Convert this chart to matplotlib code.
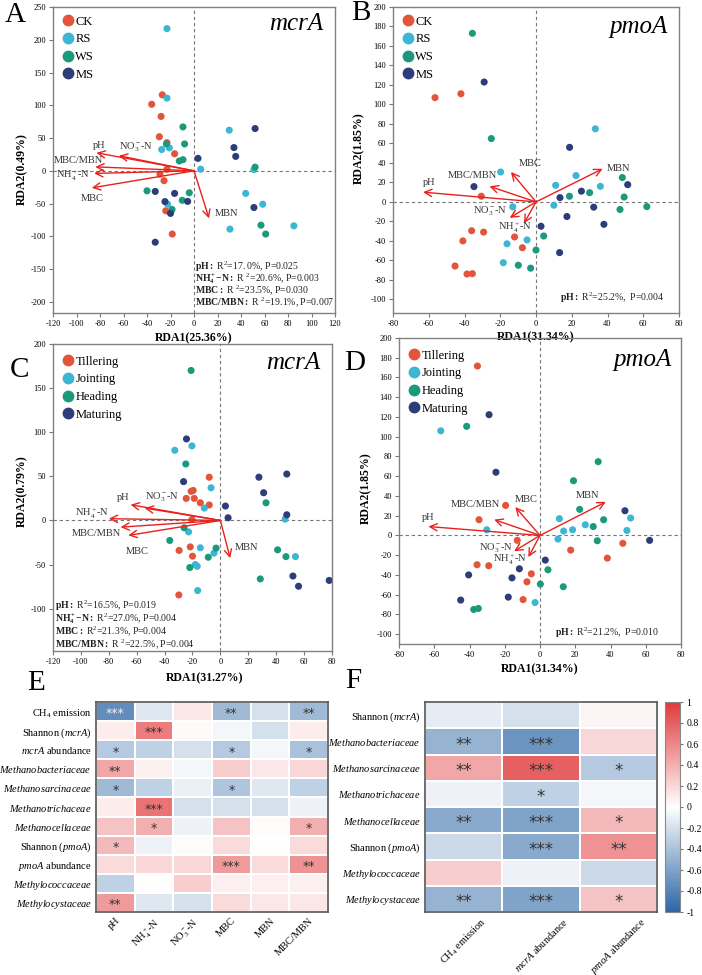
import numpy as np
import matplotlib
matplotlib.use("Agg")
import matplotlib.pyplot as plt
from matplotlib.colors import LinearSegmentedColormap
from matplotlib.lines import Line2D

plt.rcParams["font.family"] = ["Liberation Serif", "DejaVu Serif"]
plt.rcParams["mathtext.fontset"] = "custom"
plt.rcParams["mathtext.rm"] = "Liberation Serif"
plt.rcParams["mathtext.it"] = "Liberation Serif:italic"
plt.rcParams["mathtext.bf"] = "Liberation Serif:bold"
plt.rcParams["axes.unicode_minus"] = False

# ---------------- data ----------------
treatments = ["CK", "RS", "WS", "MS"]
stages = ["Tillering", "Jointing", "Heading", "Maturing"]
group_colors = ["#e2553a", "#3cb6d3", "#1b9a7b", "#2c3d79"]

env_names = ["pH", r"NH$_4^+$-N", r"NO$_3^-$-N", "MBC", "MBN", "MBC/MBN"]

# sample scores (RDA1, RDA2)
A_CK = [(-36, 101.5), (-27, 116), (-28, 83), (-29.5, 52), (-23, 43), (-16.5, 26), (-23, 2.5),
        (-29, -5), (-25.5, -15), (-24, -61), (-18.5, -96.5)]
A_RS = [(-23, 217), (-23, 111), (-27.5, 32.5), (-21, 35), (5.7, 2.5), (30, 62), (44, -34.5),
        (58.5, -51), (30.6, -89), (85, -84), (51, 2), (-22.4, -51)]
A_WS = [(-9.4, 67), (-8, 41), (-23.5, 41), (-12.5, 15), (-9.4, 17), (-40, -30.5), (-4, -33.5),
        (-10, -45), (-18.7, -59), (52, 5.6), (57, -83), (61, -96.5)]
A_MS = [(52, 64.5), (34, 35.5), (35.5, 22), (3.4, 19), (-33, -31.5), (-16.5, -34.5), (-24.7, -47),
        (-5.4, -46.7), (-20, -65), (51, -56), (-33, -109)]

B_CK = [(-56.5, 107), (-42, 111), (-30.6, 5.8), (-36, -29.6), (-29.3, -31), (-40.9, -40), (-12, -36),
        (-7.6, -47), (-45.3, -65.8), (-38.6, -74), (-35.6, -73.6)]
B_RS = [(-19.8, 30.7), (-13, -5), (10, -3.4), (11, 17), (22.4, 27), (33.2, 75), (36, 16),
        (-16.2, -43), (-5, -39), (-18.3, -62.4)]
B_WS = [(-35.6, 173), (-25, 65), (4.3, -35), (0, -49.4), (-9.9, -65), (-3, -68), (18.7, 5.8),
        (30, 9.5), (48.3, 25), (49.3, 5), (47, -7.8), (62, -4.8)]
B_MS = [(-29, 123), (-34.7, 15.7), (2.8, -25), (13.4, 4.4), (18.8, 56), (25.4, 11), (32.3, -5.4),
        (17.3, -15), (38, -23), (13.2, -52), (51.3, 17.7)]

C_TI = [(-8, 49), (-21, 33), (-19.5, 34), (-24.5, 25), (-18.7, 25), (-14.4, 20), (-8, 17.5),
        (-20.4, 1), (-21.6, -30), (-29.6, -34), (-20, -40.5), (-29.8, -84.5)]
C_JO = [(-20.4, 84.5), (-32.7, 79.5), (-6.7, 37), (-11.5, 14), (-22.8, -13), (-14.4, -31),
        (-4.6, -37), (-18, -50), (-16.6, -52), (-16.3, -79.5), (46.4, 1.5), (53.8, -41)]
C_HE = [(-21, 170), (-24.8, 64), (-26, -8.3), (-36.3, -22.7), (-3.1, -31.4), (-8.7, -41.7),
        (-21.9, -53.4), (32.7, 20), (41, -33.3), (47, -41), (28.6, -66.3)]
C_MA = [(-24.3, 92.4), (-26.4, 44), (3.6, 16.3), (5.5, 3), (27.6, 49), (47.6, 52.6), (31, 31.4),
        (47.6, 6.4), (52, -63), (56, -74.6), (78, -68)]

D_TI = [(-35.5, 171.6), (-19.5, 30.4), (-34.6, 15.9), (-12.9, -5), (-35.7, -29.7), (-29.1, -30.7),
        (-4.9, -38.9), (-7.4, -47), (-9.6, -65), (17.4, -14.9), (38.2, -23), (47, -8)]
D_JO = [(-56.3, 106), (-30.2, 5.7), (11, 17), (13.4, 4.4), (18.5, 5.7), (10.2, -3.7), (25.7, 10.8),
        (49.3, 5), (51.4, 17.6), (-2.8, -68)]
D_HE = [(-41.6, 110.5), (33, 74.7), (19, 55.4), (22.5, 26.4), (30.2, 9), (36.1, 15.9), (32.5, -5.4),
        (4.5, -34.8), (0.2, -49.3), (13.2, -52), (-37.6, -75), (-35, -74)]
D_MA = [(-28.9, 122.3), (-25, 64), (48.2, 25), (62.2, -5), (3, -25), (-11.7, -33.8), (-15.9, -43),
        (-40.5, -40), (-18, -62.5), (-45, -65.5)]

# environmental arrows, order = env_names
A_ARROWS = [(-83, 27.5), (-85, -4), (-64, 23), (-87, -26), (12.8, -72.6), (-84, 6)]
B_ARROWS = [(-63.2, 10), (-6.7, -22), (-14.7, -16.4), (-14, 30.7), (37.3, 34), (-26, 16)]
C_ARROWS = [(-64.4, 17.8), (-80, 2), (-54.3, 14), (-66, -17), (7, -42.8), (-71.6, -7.6)]
D_ARROWS = [(-63.3, 9), (-6.6, -22), (-14.7, -16), (-14, 28.7), (37.4, 34), (-26, 16)]

A_STATS = [r"$\mathbf{pH:}$ R$^2$=17. 0%, P=0.025",
           r"$\mathbf{NH_4^+{-}N:}$ R $^2$=20.6%, P=0.003",
           r"$\mathbf{MBC:}$ R $^2$=23.5%, P=0.030",
           r"$\mathbf{MBC/MBN:}$ R $^2$=19.1%, P=0.007"]
C_STATS = [r"$\mathbf{pH:}$ R$^2$=16.5%, P=0.019",
           r"$\mathbf{NH_4^+{-}N:}$ R$^2$=27.0%, P=0.004",
           r"$\mathbf{MBC:}$ R$^2$=21.3%, P=0.004",
           r"$\mathbf{MBC/MBN:}$ R $^2$=22.5%, P=0.004"]
B_STATS = [r"$\mathbf{pH:}$ R$^2$=25.2%,  P=0.004"]
D_STATS = [r"$\mathbf{pH:}$ R$^2$=21.2%,  P=0.010"]

# correlation heatmaps
E_rows = [r"CH$_4$ emission", r"Shannon ($\it{mcrA}$)", r"$\it{mcrA}$ abundance",
          r"$\it{Methanobacteriaceae}$", r"$\it{Methanosarcinaceae}$", r"$\it{Methanotrichaceae}$",
          r"$\it{Methanocellaceae}$", r"Shannon ($\it{pmoA}$)", r"$\it{pmoA}$ abundance",
          r"$\it{Methylococcaceae}$", r"$\it{Methylocystaceae}$"]
E_cols = env_names
E_vals = np.array([
    [-0.75, -0.15, 0.12, -0.45, -0.20, -0.45],
    [0.10, 0.65, 0.03, -0.05, -0.20, 0.10],
    [-0.35, -0.30, -0.20, -0.35, -0.05, -0.40],
    [0.45, 0.08, -0.05, 0.25, 0.12, 0.20],
    [-0.45, -0.30, -0.10, -0.38, -0.15, -0.30],
    [0.10, 0.70, -0.20, -0.20, -0.20, -0.08],
    [0.30, 0.40, -0.08, 0.30, 0.02, 0.40],
    [0.35, -0.08, 0.02, 0.18, 0.00, 0.18],
    [0.18, 0.20, 0.20, 0.50, 0.18, 0.55],
    [-0.30, 0.00, 0.25, 0.08, 0.08, 0.08],
    [0.50, -0.15, -0.20, 0.18, 0.12, 0.12],
])
E_sig = [
    ["***", "", "", "**", "", "**"],
    ["", "***", "", "", "", ""],
    ["*", "", "", "*", "", "*"],
    ["**", "", "", "", "", ""],
    ["*", "", "", "*", "", ""],
    ["", "***", "", "", "", ""],
    ["", "*", "", "", "", "*"],
    ["*", "", "", "", "", ""],
    ["", "", "", "***", "", "**"],
    ["", "", "", "", "", ""],
    ["**", "", "", "", "", ""],
]

F_rows = [r"Shannon ($\it{mcrA}$)", r"$\it{Methanobacteriaceae}$", r"$\it{Methanosarcinaceae}$",
          r"$\it{Methanotrichaceae}$", r"$\it{Methanocellaceae}$", r"Shannon ($\it{pmoA}$)",
          r"$\it{Methylococcaceae}$", r"$\it{Methylocystaceae}$"]
F_cols = [r"CH$_4$ emission", r"$\it{mcrA}$ abundance", r"$\it{pmoA}$ abundance"]
F_vals = np.array([
    [-0.12, -0.20, 0.05],
    [-0.50, -0.70, 0.20],
    [0.45, 0.80, -0.35],
    [-0.08, -0.30, -0.05],
    [-0.55, -0.60, 0.35],
    [-0.25, -0.55, 0.55],
    [0.25, -0.08, -0.25],
    [-0.50, -0.60, 0.30],
])
F_sig = [
    ["", "", ""],
    ["**", "***", ""],
    ["**", "***", "*"],
    ["", "*", ""],
    ["**", "***", "*"],
    ["", "***", "**"],
    ["", "", ""],
    ["**", "***", "*"],
]

cbar_ticks = [1, 0.8, 0.6, 0.4, 0.2, 0, -0.2, -0.4, -0.6, -0.8, -1]

# ---------------- drawing ----------------
W, H = 702, 975
fig = plt.figure(figsize=(W / 100, H / 100), dpi=100)


def px_axes(l, t, r, b):
    ax = fig.add_axes([l / W, 1 - b / H, (r - l) / W, (b - t) / H])
    ax.patch.set_visible(False)
    return ax


def rda_panel(ax, groups, names, arrows, label_pos, xlim, ylim, xticks, yticks,
              title, xlab, ylab, xlab_pos, ylab_pos, stats, stats_pos, legend_y):
    ax.axhline(0, color="#777777", lw=0.8, ls=(0, (3, 2.5)), zorder=1)
    ax.axvline(0, color="#777777", lw=0.8, ls=(0, (3, 2.5)), zorder=1)
    for pts, c in zip(groups, group_colors):
        pts = np.array(pts)
        ax.scatter(pts[:, 0], pts[:, 1], s=26, color=c, edgecolors="none", zorder=3)
    for (ex, ey), (lx, ly), nm in zip(arrows, label_pos, env_names):
        ax.annotate("", xy=(ex, ey), xytext=(0, 0),
                    arrowprops=dict(arrowstyle="->", color="#e8211d", lw=1.0,
                                    mutation_scale=13, shrinkA=0, shrinkB=0), zorder=4)
        ax.text(lx, ly, nm, fontsize=7.5, color="#333333", ha="center", va="center", zorder=5)
    ax.set_xlim(xlim)
    ax.set_ylim(ylim)
    ax.set_xticks(xticks)
    ax.set_yticks(yticks)
    ax.tick_params(labelsize=6, length=3, width=0.8, color="#777777", pad=2)
    for s in ax.spines.values():
        s.set_color("#808080")
        s.set_linewidth(1.0)
    ax.set_xlabel(xlab, fontsize=8.5, fontweight="bold")
    ax.set_ylabel(ylab, fontsize=8.5, fontweight="bold")
    ax.xaxis.set_label_coords(*xlab_pos)
    ax.yaxis.set_label_coords(*ylab_pos)
    ax.text(title[1], title[2], title[0], transform=ax.transAxes, fontsize=18,
            fontstyle="italic", ha="right", va="center")
    handles = [Line2D([], [], ls="none", marker="o", ms=7.5, color=c) for c in group_colors]
    ax.legend(handles, names, loc="upper left", bbox_to_anchor=(-0.005, legend_y), frameon=False,
              fontsize=9, handletextpad=0.0, labelspacing=0.45, borderpad=0.2,
              handlelength=1.2)
    sx, sy0, dy = stats_pos
    for i, line in enumerate(stats):
        ax.text(sx, sy0 - i * dy, line, transform=ax.transAxes, fontsize=7, color="#222222",
                ha="left", va="center", zorder=6)


axA = px_axes(53, 7, 335, 313)
rda_panel(axA, [A_CK, A_RS, A_WS, A_MS], treatments, A_ARROWS,
          [(-81, 38), (-103, -7.6), (-49, 36.5), (-87, -42), (28, -65), (-98, 16)],
          (-120, 120), (-217, 250), np.arange(-120, 121, 20), np.arange(-200, 251, 50),
          ("mcrA", 0.957, 0.946), "RDA1(25.36%)", "RDA2(0.49%)", (0.5, -0.062), (-0.089, 0.47),
          A_STATS, (0.505, 0.150, 0.038), 1.0)

axB = px_axes(393, 7, 679, 313)
rda_panel(axB, [B_CK, B_RS, B_WS, B_MS], treatments, B_ARROWS,
          [(-60, 20), (-11.6, -26.6), (-25.6, -10), (-3, 39), (46, 34), (-35.4, 27)],
          (-80, 80), (-114, 200), np.arange(-80, 81, 20), np.arange(-100, 201, 20),
          ("pmoA", 0.962, 0.935), "RDA1(31.34%)", "RDA2(1.85%)", (0.5, -0.059), (-0.098, 0.54),
          B_STATS, (0.584, 0.049, 0.04), 1.0)

axC = px_axes(53, 344, 332, 651)
rda_panel(axC, [C_TI, C_JO, C_HE, C_MA], stages, C_ARROWS,
          [(-69.7, 26.5), (-92, 7.6), (-41.6, 26.5), (-60, -35), (19, -31), (-89, -14.4)],
          (-120, 80), (-148, 200), np.arange(-120, 81, 20), np.arange(-100, 201, 50),
          ("mcrA", 0.957, 0.938), "RDA1(31.27%)", "RDA2(0.79%)", (0.545, -0.068), (-0.09, 0.52),
          C_STATS, (0.008, 0.148, 0.0413), 0.99)

axD = px_axes(399, 338, 681, 644)
rda_panel(axD, [D_TI, D_JO, D_HE, D_MA], stages, D_ARROWS,
          [(-63.5, 18.6), (-17, -24.7), (-24.8, -12.5), (-7.6, 36.5), (26.8, 40), (-36.5, 31)],
          (-80, 80), (-110, 200), np.arange(-80, 81, 20), np.arange(-100, 201, 20),
          ("pmoA", 0.968, 0.928), "RDA1(31.34%)", "RDA2(1.85%)", (0.5, -0.062), (-0.096, 0.51),
          D_STATS, (0.553, 0.036, 0.04), 0.99)

cmap = LinearSegmentedColormap.from_list("rb", ["#2c66a5", "#ffffff", "#e0393b"])


def heat(ax, vals, sig, rows, cols, star_fs, xlab_ha):
    m = ax.pcolormesh(vals, cmap=cmap, vmin=-1, vmax=1, edgecolors="white", linewidth=0.3)
    ax.set_xlim(0, vals.shape[1])
    ax.set_ylim(vals.shape[0], 0)
    ax.set_xticks(np.arange(vals.shape[1]) + 0.5)
    ax.set_yticks(np.arange(vals.shape[0]) + 0.5)
    ax.set_yticklabels(rows, fontsize=7.5)
    if xlab_ha == "right":
        ax.set_xticklabels(cols, fontsize=7.5, rotation=45, ha="right", rotation_mode="anchor")
    else:
        ax.set_xticklabels(cols, fontsize=7.5, rotation=45, ha="center")
    ax.tick_params(length=0, pad=3)
    for s in ax.spines.values():
        s.set_color("#555555")
        s.set_linewidth(1.2)
    for i in range(vals.shape[0]):
        for j in range(vals.shape[1]):
            if sig[i][j]:
                c = "#eeeeee" if vals[i, j] < -0.72 else "#333333"
                ax.text(j + 0.5, i + 0.62, sig[i][j], ha="center", va="center",
                        fontsize=star_fs, color=c, family="DejaVu Sans")
    return m


axE = px_axes(96, 702, 328, 912)
heat(axE, E_vals, E_sig, E_rows, E_cols, 9, "right")

axF = px_axes(425, 702, 657, 912)
mesh = heat(axF, F_vals, F_sig, F_rows, F_cols, 12, "center")

cax = fig.add_axes([665 / W, 1 - 912 / H, 15 / W, 210 / H])
cb = fig.colorbar(mesh, cax=cax, ticks=cbar_ticks)
cb.ax.set_yticklabels([f"{t:g}" for t in cbar_ticks])
cb.ax.tick_params(labelsize=7, length=2.5, color="#777777", pad=2)
cb.outline.set_edgecolor("#888888")

# panel letters
for letter, x, y in [("A", 5, 15), ("B", 351, 13), ("C", 10, 370), ("D", 344, 363),
                     ("E", 27, 683), ("F", 345, 681)]:
    fig.text(x / W, 1 - y / H, letter, fontsize=21, ha="left", va="center")

fig.savefig("out.png", dpi=100)
